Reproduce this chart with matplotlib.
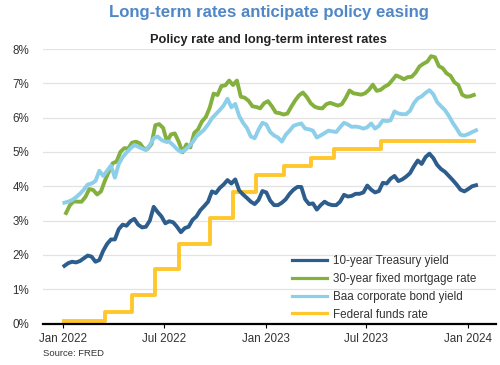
import numpy as np
import pandas as pd
import matplotlib
matplotlib.use("Agg")
import matplotlib.pyplot as plt
import matplotlib.dates as mdates
from matplotlib.ticker import FuncFormatter

plt.rcParams['font.family'] = ['Liberation Sans', 'DejaVu Sans']

# weekly 10-year Treasury yield (Mondays, from 2022-01-03)
treasury = [1.68, 1.76, 1.80, 1.78, 1.82,  1.90, 1.98, 1.95, 1.80,  1.85, 2.12, 2.32, 2.45,
            2.45, 2.75, 2.88, 2.85,  2.98, 3.05, 2.88, 2.80, 2.82,  3.00, 3.40, 3.25, 3.12,
            2.92, 2.98, 2.95, 2.82,  2.66, 2.78, 2.82, 3.02, 3.12,  3.30, 3.42, 3.55, 3.85,
            3.80, 3.95, 4.05, 4.18, 4.08,  4.20, 3.88, 3.76, 3.66,  3.55, 3.48, 3.60, 3.86,
            3.82, 3.58, 3.45, 3.45, 3.52,  3.62, 3.78, 3.90, 3.98,  3.98, 3.62, 3.48, 3.50,
            3.32, 3.45, 3.55, 3.48,  3.45, 3.45, 3.55, 3.75, 3.70,  3.72, 3.78, 3.78, 3.82,
            4.02, 3.90, 3.82, 3.86, 4.10,  4.08, 4.22, 4.30, 4.15,  4.20, 4.28, 4.38, 4.58,
            4.75, 4.65, 4.85, 4.95, 4.82,  4.62, 4.50, 4.42, 4.30,  4.18, 4.05, 3.90, 3.85,
            3.92, 4.00, 4.03]

# weekly Moody's Baa corporate bond yield (Mondays, from 2022-01-03)
baa = [3.52, 3.55, 3.60, 3.68, 3.78,  3.90, 4.05, 4.08, 4.15,  4.45, 4.30, 4.45, 4.60,
       4.25, 4.65, 4.85, 4.98,  5.10, 5.20, 5.15, 5.10, 5.05,  5.20, 5.40, 5.45, 5.35,
       5.30, 5.30, 5.20, 5.08,  5.00, 5.05, 5.15, 5.28, 5.45,  5.55, 5.65, 5.80, 5.98,
       6.10, 6.22, 6.35, 6.55, 6.30,  6.40, 6.05, 5.85, 5.70,  5.45, 5.40, 5.65, 5.85,
       5.80, 5.58, 5.48, 5.42, 5.30,  5.50, 5.62, 5.76, 5.80,  5.83, 5.68, 5.66, 5.62,
       5.42, 5.48, 5.55, 5.62,  5.60, 5.58, 5.72, 5.85, 5.80,  5.73, 5.74, 5.72, 5.68,
       5.72, 5.83, 5.68, 5.76, 5.92,  5.90, 5.92, 6.18, 6.12,  6.10, 6.10, 6.20, 6.42,
       6.56, 6.62, 6.72, 6.80, 6.68,  6.45, 6.33, 6.22, 6.05,  5.85, 5.68, 5.50, 5.48,
       5.52, 5.58, 5.63]

# weekly 30-year fixed mortgage rate (Thursdays, from 2022-01-06)
mortgage = [3.22, 3.45, 3.56, 3.55,  3.55, 3.69, 3.92, 3.89,  3.76, 3.85, 4.16, 4.42, 4.67,
            4.72, 5.00, 5.11, 5.10,  5.27, 5.30, 5.25, 5.10,  5.09, 5.23, 5.78, 5.81, 5.70,
            5.30, 5.51, 5.54, 5.30,  4.99, 5.22, 5.13, 5.55,  5.66, 5.89, 6.02, 6.29, 6.70,
            6.66, 6.92, 6.94, 7.08,  6.95, 7.08, 6.61, 6.58,  6.49, 6.33, 6.31, 6.27, 6.42,
            6.48, 6.33, 6.15, 6.13,  6.09, 6.12, 6.32, 6.50,  6.65, 6.73, 6.60, 6.42, 6.32,
            6.28, 6.27, 6.39, 6.43,  6.39, 6.35, 6.39, 6.57,  6.79, 6.71, 6.69, 6.67, 6.71,
            6.81, 6.96, 6.78, 6.81,  6.90, 6.96, 7.09, 7.23, 7.18,  7.12, 7.18, 7.19, 7.31,
            7.49, 7.57, 7.63, 7.79,  7.76, 7.50, 7.44, 7.29, 7.22,  7.03, 6.95, 6.67, 6.61,
            6.62, 6.66]

# federal funds rate (effective) change dates
ff_dates = ['2022-01-03', '2022-03-17', '2022-05-05', '2022-06-16', '2022-07-28',
            '2022-09-22', '2022-11-03', '2022-12-15', '2023-02-02', '2023-03-23',
            '2023-05-04', '2023-07-27', '2024-01-12']
ff_rate = [0.08, 0.33, 0.83, 1.58, 2.33, 3.08, 3.83, 4.33, 4.58, 4.83, 5.08, 5.33, 5.33]

series_labels = ['10-year Treasury yield', '30-year fixed mortgage rate',
                 'Baa corporate bond yield', 'Federal funds rate']
colors = ['#2d5d8c', '#84b03e', '#8dcfea', '#ffc72c']

wk_dates = pd.date_range('2022-01-03', periods=len(treasury), freq='7D')
mt_dates = pd.date_range('2022-01-06', periods=len(mortgage), freq='7D')

fig = plt.figure(figsize=(5, 3.65), dpi=100)
ax = fig.add_axes([43.3/500, 1-323.5/365, (496-43.3)/500, (323.5-49)/365])

lw = 2.8
ax.plot(wk_dates, treasury, color=colors[0], lw=lw, label=series_labels[0], zorder=4)
ax.plot(mt_dates, mortgage, color=colors[1], lw=lw, label=series_labels[1], zorder=3)
ax.plot(wk_dates, baa, color=colors[2], lw=lw, label=series_labels[2], zorder=3.5)
ax.plot(pd.to_datetime(ff_dates), ff_rate, color=colors[3], lw=lw, drawstyle='steps-post',
        label=series_labels[3], zorder=2)

ax.set_ylim(0, 8)
ax.set_xlim(pd.Timestamp('2021-11-26'), pd.Timestamp('2024-02-20'))
ax.set_yticks(range(0, 9))
ax.yaxis.set_major_formatter(FuncFormatter(lambda v, p: f'{v:.0f}%'))
ax.xaxis.set_major_locator(mdates.MonthLocator(bymonth=[1, 7]))
ax.xaxis.set_major_formatter(mdates.DateFormatter('%b %Y'))

ax.grid(axis='y', color='#e3e3e3', lw=0.9)
ax.set_axisbelow(True)
for s in ['top', 'right', 'left']:
    ax.spines[s].set_visible(False)
ax.spines['bottom'].set_color('black')
ax.spines['bottom'].set_linewidth(1.6)
ax.spines['bottom'].set_zorder(5)
ax.tick_params(axis='y', length=0, pad=10, labelsize=8.4, labelcolor='#333333')
ax.tick_params(axis='x', length=3, width=0.8, color='black', pad=3.5, labelsize=8.4,
               labelcolor='#333333')

fig.text(0.537, 1-12.5/365, 'Long-term rates anticipate policy easing', ha='center', va='center',
         fontsize=12.1, fontweight='bold', color='#4f87c7')
fig.text(0.537, 1-39.5/365, 'Policy rate and long-term interest rates', ha='center', va='center',
         fontsize=9.2, fontweight='bold', color='#222222')
fig.text(42.7/500, 1-353.5/365, 'Source: FRED', ha='left', va='center', fontsize=6.8,
         color='#333333')

leg = ax.legend(loc='upper left', bbox_to_anchor=(291.7/500, 1-255/365),
                bbox_transform=fig.transFigure, frameon=False, fontsize=8.4,
                handlelength=3.0, handletextpad=0.5, labelspacing=0.5,
                borderpad=0, borderaxespad=0)
for h in leg.get_lines():
    h.set_linewidth(2.3)
for t in leg.get_texts():
    t.set_color('#333333')

fig.savefig('out.png', dpi=100)
